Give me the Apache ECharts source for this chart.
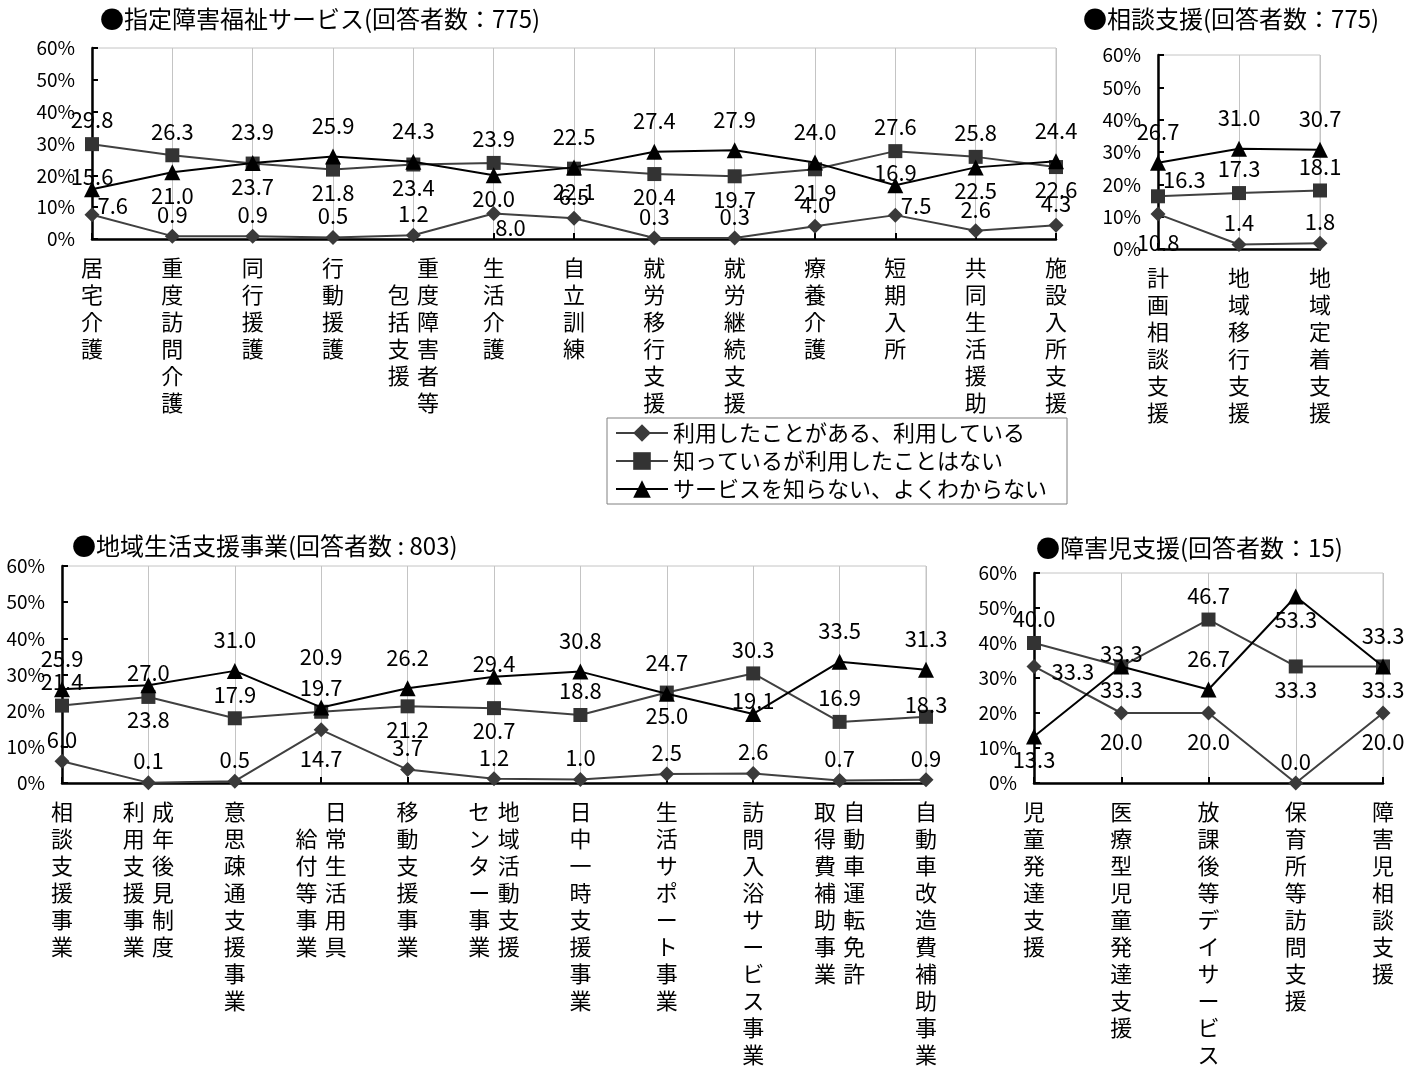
<!DOCTYPE html>
<html><head><meta charset="utf-8">
<script src="https://cdn.jsdelivr.net/npm/echarts@6/dist/echarts.min.js"></script>
<style>html,body{margin:0;padding:0;background:#fff}#c{width:1418px;height:1068px}</style>
</head><body><div id="c"></div><script>
// ---- data ----
const seriesNames = ['利用したことがある、利用している','知っているが利用したことはない','サービスを知らない、よくわからない'];
const yTicks = [0,10,20,30,40,50,60];

const title1 = '●指定障害福祉サービス(回答者数：775)';
const cats1 = ['居宅介護','重度訪問介護','同行援護','行動援護','重度障害者等包括支援','生活介護','自立訓練','就労移行支援','就労継続支援','療養介護','短期入所','共同生活援助','施設入所支援'];
const used1 = [7.6,0.9,0.9,0.5,1.2,8.0,6.5,0.3,0.3,4.0,7.5,2.6,4.3];
const known1 = [29.8,26.3,23.7,21.8,23.4,23.9,22.1,20.4,19.7,21.9,27.6,25.8,22.6];
const unknown1 = [15.6,21.0,23.9,25.9,24.3,20.0,22.5,27.4,27.9,24.0,16.9,22.5,24.4];

const title2 = '●相談支援(回答者数：775)';
const cats2 = ['計画相談支援','地域移行支援','地域定着支援'];
const used2 = [10.8,1.4,1.8];
const known2 = [16.3,17.3,18.1];
const unknown2 = [26.7,31.0,30.7];

const title3 = '●地域生活支援事業(回答者数 : 803)';
const cats3 = ['相談支援事業','成年後見制度利用支援事業','意思疎通支援事業','日常生活用具給付等事業','移動支援事業','地域活動支援センター事業','日中一時支援事業','生活サポート事業','訪問入浴サービス事業','自動車運転免許取得費補助事業','自動車改造費補助事業'];
const used3 = [6.0,0.1,0.5,14.7,3.7,1.2,1.0,2.5,2.6,0.7,0.9];
const known3 = [21.4,23.8,17.9,19.7,21.2,20.7,18.8,25.0,30.3,16.9,18.3];
const unknown3 = [25.9,27.0,31.0,20.9,26.2,29.4,30.8,24.7,19.1,33.5,31.3];

const title4 = '●障害児支援(回答者数：15)';
const cats4 = ['児童発達支援','医療型児童発達支援','放課後等デイサービス','保育所等訪問支援','障害児相談支援'];
const used4 = [33.3,20.0,20.0,0.0,20.0];
const known4 = [40.0,33.3,46.7,33.3,33.3];
const unknown4 = [13.3,33.3,26.7,53.3,33.3];

// ---- layout / style (not data) ----
const FONT = "'Noto Sans CJK JP', 'Noto Sans CJK SC', sans-serif";
// column break for two-column vertical category labels (0 = single column)
const brk1 = [0,0,0,0,6,0,0,0,0,0,0,0,0];
const brk2 = [0,0,0];
const brk3 = [0,6,0,6,0,6,0,0,0,7,0];
const brk4 = [0,0,0,0,0];
// label placement codes per point
const lab1 = {
  u: ['rt','t','t','t','t','rb','t','t','t','t','rt','t','t'],
  k: ['t','t','b','b','b','t','b','b','b','b','t','t','b'],
  n: ['tn','b','t','t','t','b','t','t','t','t','tn','b','t']
};
const lab2 = { u: ['b','t','t'], k: ['rt2','t','t'], n: ['t','t','t'] };
const lab3 = {
  u: ['t','t','t','b','t','t','t','t','t','t','t'],
  k: ['t','b','t','t','b','b','t','b','t','t','tn'],
  n: ['t','tn','t','t2','t','tn','t','t','tn','t','t']
};
const lab4 = { u: ['r','b','b','t','b'], k: ['t','b','t','b','b'], n: ['b','tn','t','b','t'] };

const grids = [
  {left:92, top:48, width:964, height:191},
  {left:1158, top:55, width:162, height:194},
  {left:62, top:566, width:864, height:223},
  {left:1034, top:573, width:349, height:220}
];
const titlePos = [[100,7],[1083,7],[72,534],[1036,536]];

const DIST = { // top / bottom distances per series kind
  u: {t:3, b:10}, k: {t:6, b:5}, n: {t:12, b:4}
};
function labelFor(code, kind){
  const d = DIST[kind];
  switch(code){
    case 't': return {position:'top', distance:d.t};
    case 'tn': return {position:'top', distance:0, offset:[0,6]};
    case 't2': return {position:'top', distance:d.t, offset:[0,-20]};
    case 'b': return {position:'bottom', distance:d.b};
    case 'rt': return {position:'right', distance:-2, offset:[0,-9]};
    case 'rt2': return {position:'right', distance:-2, offset:[0,-17]};
    case 'rb': return {position:'right', distance:-6, offset:[0,14]};
    case 'r': return {position:'right', distance:10, offset:[0,5]};
  }
  return {position:'top'};
}
function items(vals, codes, kind){
  return vals.map((v,i)=>({value:v, label:labelFor(codes[i], kind)}));
}
function vlabel(name, b){
  if(!b) return name.split('').join('\n');
  const R = name.slice(0,b).split(''), L = name.slice(b).split('');
  const n = Math.max(R.length, L.length);
  const oL = Math.round((n-L.length)/2), oR = Math.round((n-R.length)/2);
  const rows = [];
  for(let i=0;i<n;i++){
    rows.push((L[i-oL]||'\u3000') + '\u2004' + (R[i-oR]||'\u3000'));
  }
  return rows.join('\n');
}

const charts = [
  {title:title1, cats:cats1, u:used1, k:known1, n:unknown1, brk:brk1, lab:lab1},
  {title:title2, cats:cats2, u:used2, k:known2, n:unknown2, brk:brk2, lab:lab2},
  {title:title3, cats:cats3, u:used3, k:known3, n:unknown3, brk:brk3, lab:lab3},
  {title:title4, cats:cats4, u:used4, k:known4, n:unknown4, brk:brk4, lab:lab4}
];

const labelBase = {show:true, color:'#000', fontSize:22, fontFamily:FONT,
  formatter: p => Number(p.value).toFixed(1)};

const option = {
  animation:false,
  backgroundColor:'#fff',
  title: charts.map((c,i)=>({text:c.title, left:titlePos[i][0], top:titlePos[i][1], padding:0,
    textStyle:{fontSize:24, fontWeight:'normal', color:'#000', fontFamily:FONT}})),
  legend: {
    orient:'vertical', left:607, top:418, padding:[3,20,3,8],
    itemWidth:52, itemHeight:22, itemGap:4, selectedMode:false,
    borderColor:'#808080', borderWidth:1,
    textStyle:{fontSize:22, lineHeight:24, color:'#000', fontFamily:FONT},
    data: seriesNames
  },
  grid: grids.map(g=>Object.assign({show:true, borderColor:'#c4c4c4', borderWidth:1, containLabel:false}, g)),
  xAxis: charts.map((c,i)=>({
    type:'category', gridIndex:i, data:c.cats, boundaryGap:false,
    axisLine:{show:true, lineStyle:{color:'#000', width:2.5}},
    axisTick:{show:true, inside:true, length:6, lineStyle:{color:'#000', width:2}},
    splitLine:{show:true, lineStyle:{color:'#c4c4c4', width:1}},
    axisLabel:{interval:0, fontSize:22, lineHeight:27, margin:15, color:'#000', fontFamily:FONT,
      formatter:(v,idx)=>vlabel(v, c.brk[idx])}
  })),
  yAxis: charts.map((c,i)=>({
    type:'value', gridIndex:i, min:yTicks[0], max:yTicks[yTicks.length-1], interval:yTicks[1]-yTicks[0],
    axisLine:{show:true, lineStyle:{color:'#000', width:2.5}},
    axisTick:{show:true, inside:true, length:6, lineStyle:{color:'#000', width:2}},
    splitLine:{show:false},
    axisLabel:{formatter:'{value}%', fontSize:19, color:'#000', margin:17, fontFamily:FONT}
  })),
  series: []
};
charts.forEach((c,i)=>{
  option.series.push(
    {name:seriesNames[0], type:'line', xAxisIndex:i, yAxisIndex:i, data:items(c.u, c.lab.u, 'u'),
     symbol:'diamond', symbolSize:15, itemStyle:{color:'#3a3a3a'}, lineStyle:{color:'#404040', width:2},
     label:labelBase, emphasis:{disabled:true}, z:3},
    {name:seriesNames[1], type:'line', xAxisIndex:i, yAxisIndex:i, data:items(c.k, c.lab.k, 'k'),
     symbol:'rect', symbolSize:14, itemStyle:{color:'#333333'}, lineStyle:{color:'#404040', width:2},
     label:labelBase, emphasis:{disabled:true}, z:4},
    {name:seriesNames[2], type:'line', xAxisIndex:i, yAxisIndex:i, data:items(c.n, c.lab.n, 'n'),
     symbol:'triangle', symbolSize:16, itemStyle:{color:'#000000'}, lineStyle:{color:'#000000', width:2},
     label:labelBase, emphasis:{disabled:true}, z:5}
  );
});
const chart = echarts.init(document.getElementById('c'), null, {renderer:'canvas'});
chart.setOption(option);
</script></body></html>
